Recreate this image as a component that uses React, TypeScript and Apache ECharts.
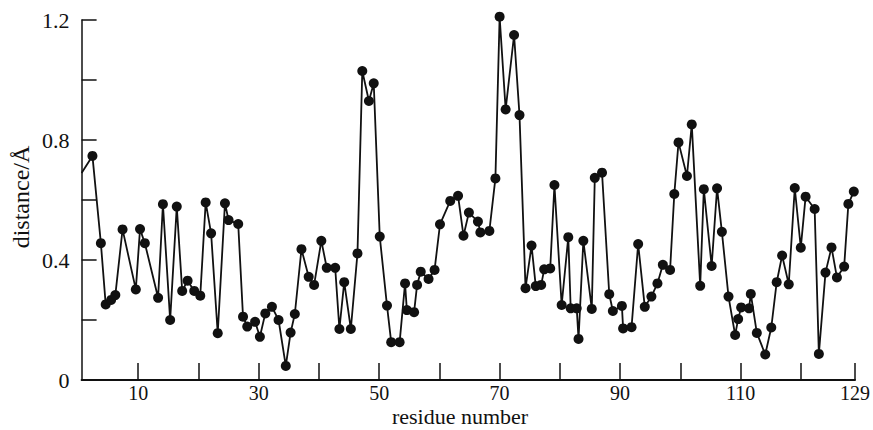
import React, { useEffect, useRef } from "react";
import * as echarts from "echarts";

const residues = [
  0.6, 2.4, 3.8, 4.6, 5.5, 6.2, 7.4, 9.6, 10.3, 11.1, 13.3, 14.1, 15.3, 16.4, 17.3, 18.2, 19.3, 20.3, 21.2, 22.1,
  23.2, 24.4, 25.0, 26.6, 27.4, 28.1, 29.4, 30.2, 31.1, 32.2, 33.3, 34.5, 35.3, 36.0, 37.1, 38.3, 39.2, 40.4, 41.3, 42.7,
  43.4, 44.2, 45.3, 46.4, 47.2, 48.3, 49.1, 50.1, 51.3, 52.0, 53.4, 54.3, 54.6, 55.8, 56.3, 56.9, 58.2, 59.2, 60.1, 61.8,
  63.1, 64.0, 64.9, 66.4, 66.8, 68.3, 69.3, 70.0, 71.0, 72.4, 73.3, 74.3, 75.3, 76.0, 76.9, 77.4, 78.4, 79.1, 80.3, 81.4,
  81.8, 82.8, 83.1, 83.9, 85.3, 85.8, 87.0, 88.2, 88.8, 90.3, 90.5, 91.9, 93.0, 94.1, 95.2, 96.2, 97.1, 98.3, 99.0, 99.7,
  101.1, 101.9, 103.3, 103.9, 105.2, 106.1, 106.9, 108.0, 109.1, 109.6, 110.1, 111.4, 111.7, 112.7, 114.1, 115.1, 116.0, 116.9, 118.0, 119.0,
  120.0, 120.8, 122.3, 123.0, 124.1, 125.1, 126.0, 127.2, 127.9, 128.8,
];

const distances = [
  0.69, 0.747, 0.456, 0.252, 0.267, 0.283, 0.502, 0.302, 0.503, 0.456, 0.274, 0.586, 0.2, 0.578, 0.297, 0.331, 0.297, 0.281, 0.592, 0.489,
  0.156, 0.589, 0.533, 0.52, 0.211, 0.178, 0.194, 0.144, 0.222, 0.244, 0.2, 0.047, 0.158, 0.22, 0.436, 0.344, 0.317, 0.464, 0.374, 0.374,
  0.17, 0.326, 0.17, 0.422, 1.03, 0.93, 0.989, 0.478, 0.248, 0.126, 0.126, 0.322, 0.233, 0.226, 0.317, 0.361, 0.337, 0.367, 0.519, 0.597,
  0.614, 0.481, 0.558, 0.528, 0.492, 0.497, 0.672, 1.211, 0.902, 1.15, 0.883, 0.306, 0.448, 0.313, 0.317, 0.369, 0.372, 0.65, 0.25, 0.476,
  0.239, 0.239, 0.137, 0.464, 0.237, 0.674, 0.691, 0.286, 0.23, 0.247, 0.172, 0.176, 0.453, 0.244, 0.278, 0.322, 0.384, 0.367, 0.62, 0.792,
  0.68, 0.852, 0.314, 0.636, 0.38, 0.639, 0.494, 0.278, 0.15, 0.203, 0.242, 0.239, 0.287, 0.157, 0.085, 0.175, 0.326, 0.415, 0.319, 0.64,
  0.441, 0.611, 0.57, 0.087, 0.358, 0.442, 0.342, 0.378, 0.587, 0.628,
];

const xTickValues = [10, 20, 30, 40, 50, 60, 70, 80, 90, 100, 110, 120, 129];
const xLabelValues = [10, 30, 50, 70, 90, 110, 129];
const yLabelValues = [0, 0.4, 0.8, 1.2];

const xAxisName = "residue number";
const yAxisName = "distance/Å";

const FONT = "'Liberation Serif', 'DejaVu Serif', serif";
const INK = "#111111";

export default function App() {
  const ref = useRef<HTMLDivElement>(null);

  useEffect(() => {
    if (!ref.current) return;
    const chart = echarts.init(ref.current, null, { renderer: "svg" });
    const data = residues.map((r, i) =>
      i === 0 ? { value: [r, distances[i]], symbol: "none" } : [r, distances[i]]
    );
    chart.setOption({
      animation: false,
      backgroundColor: "#ffffff",
      grid: { left: 81.6, right: 17, top: 20, bottom: 50, containLabel: false },
      xAxis: {
        type: "value",
        min: 0.6,
        max: 129,
        axisLine: { show: true, lineStyle: { color: INK, width: 2 } },
        axisTick: {
          show: true,
          inside: true,
          length: 17,
          customValues: xTickValues,
          lineStyle: { color: INK, width: 1.5 },
        },
        axisLabel: {
          show: true,
          customValues: xLabelValues,
          margin: 3,
          color: INK,
          fontFamily: FONT,
          fontSize: 20,
          lineHeight: 20,
        },
        splitLine: { show: false },
      },
      yAxis: {
        type: "value",
        min: 0,
        max: 1.2,
        interval: 0.2,
        axisLine: { show: true, lineStyle: { color: INK, width: 1.5 } },
        axisTick: { show: true, inside: true, length: 15, lineStyle: { color: INK, width: 1.5 } },
        axisLabel: {
          show: true,
          margin: 12,
          color: INK,
          fontFamily: FONT,
          fontSize: 22,
          formatter: (v: number) => {
            const hit = yLabelValues.find((t) => Math.abs(t - v) < 1e-6);
            if (hit === undefined) return "";
            return hit === 0 ? "0" : hit.toFixed(1);
          },
        },
        splitLine: { show: false },
      },
      graphic: [
        {
          type: "text",
          x: 460,
          y: 416,
          style: {
            text: xAxisName,
            fill: INK,
            font: `22px ${FONT}`,
            textAlign: "center",
            textVerticalAlign: "middle",
          },
        },
        {
          type: "text",
          x: 21,
          y: 197,
          rotation: Math.PI / 2,
          style: {
            text: yAxisName,
            fill: INK,
            font: `24px ${FONT}`,
            textAlign: "center",
            textVerticalAlign: "middle",
          },
        },
      ],
      series: [
        {
          type: "line",
          data,
          symbol: "circle",
          symbolSize: 10,
          showSymbol: true,
          lineStyle: { color: INK, width: 1.8 },
          itemStyle: { color: INK },
          clip: false,
        },
      ],
    });
    return () => chart.dispose();
  }, []);

  return (
    <div
      ref={ref}
      style={{ position: "fixed", left: 0, top: 0, width: 873, height: 430, background: "#fff" }}
    />
  );
}
